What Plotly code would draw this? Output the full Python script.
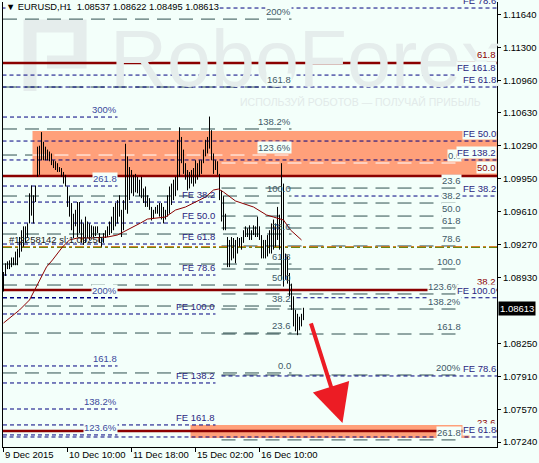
import plotly.graph_objects as go

BG = "#F3FFFA"
FONT = "Liberation Sans, Arial, sans-serif"

# ---------------- data ----------------
time_ticks = [0, 32, 64, 96, 128]
time_labels = ["9 Dec 2015", "10 Dec 10:00", "11 Dec 18:00", "15 Dec 02:00", "16 Dec 10:00"]

price_ticks = [1.11640, 1.11300, 1.10960, 1.10630, 1.10290, 1.09950, 1.09610,
               1.09270, 1.08930, 1.08250, 1.07910, 1.07570, 1.07240]
price_tick_labels = ["%.5f" % v for v in price_ticks]

bar_high = [1.0899, 1.0908, 1.0910, 1.0911, 1.0914, 1.0914, 1.0920, 1.0923, 1.0935, 1.0942,
            1.0946, 1.0946, 1.0949, 1.0980, 1.0988, 1.0978, 1.0988, 1.1028, 1.1029, 1.1043,
            1.1033, 1.1028, 1.1025, 1.1023, 1.1021, 1.1014, 1.1013, 1.1011, 1.1007, 1.1006,
            1.1002, 1.0999, 1.0987, 1.0977, 1.0970, 1.0959, 1.0963, 1.0971, 1.0971, 1.0953,
            1.0949, 1.0956, 1.0951, 1.0949, 1.0947, 1.0946, 1.0946, 1.0946, 1.0939, 1.0935,
            1.0939, 1.0942, 1.0946, 1.0951, 1.0956, 1.0966, 1.0970, 1.0973, 1.0978, 1.0963,
            1.0973, 1.1031, 1.1018, 1.1007, 1.1004, 1.0999, 1.1000, 1.0997, 1.0994, 1.0997,
            1.0985, 1.0987, 1.0978, 1.0975, 1.0966, 1.0963, 1.0966, 1.0968, 1.0970, 1.0970,
            1.0966, 1.0963, 1.0978, 1.0987, 1.0990, 1.0994, 1.0997, 1.1035, 1.1048, 1.1038,
            1.1025, 1.1011, 1.1004, 1.1002, 1.1004, 1.1006, 1.1014, 1.1011, 1.1014, 1.1014,
            1.1025, 1.1035, 1.1038, 1.1059, 1.1045, 1.1021, 1.1014, 1.1013, 1.1000, 1.0983,
            1.0977, 1.0959, 1.0935, 1.0932, 1.0935, 1.0934, 1.0932, 1.0935, 1.0934, 1.0935,
            1.0942, 1.0946, 1.0944, 1.0947, 1.0942, 1.0947, 1.0946, 1.0956, 1.0946, 1.0937,
            1.0932, 1.0932, 1.0937, 1.0942, 1.0949, 1.0953, 1.0949, 1.0966, 1.0958, 1.1011,
            1.0990, 1.0918, 1.0916, 1.0898, 1.0887, 1.0874, 1.0860, 1.0856, 1.0853, 1.0856,
            1.08622]
bar_low = [1.0879, 1.0895, 1.0902, 1.0902, 1.0904, 1.0906, 1.0906, 1.0906, 1.0914, 1.0920,
           1.0925, 1.0929, 1.0934, 1.0949, 1.0957, 1.0949, 1.0971, 1.0997, 1.0999, 1.1014,
           1.1014, 1.1014, 1.1014, 1.1013, 1.1009, 1.1006, 1.1004, 1.1002, 1.1002, 1.0997,
           1.0990, 1.0987, 1.0966, 1.0956, 1.0942, 1.0934, 1.0946, 1.0935, 1.0939, 1.0929,
           1.0927, 1.0929, 1.0934, 1.0932, 1.0935, 1.0935, 1.0936, 1.0939, 1.0929, 1.0925,
           1.0929, 1.0934, 1.0935, 1.0937, 1.0939, 1.0942, 1.0946, 1.0949, 1.0956, 1.0935,
           1.0942, 1.0963, 1.0959, 1.0973, 1.0980, 1.0977, 1.0981, 1.0980, 1.0977, 1.0975,
           1.0970, 1.0966, 1.0966, 1.0963, 1.0952, 1.0954, 1.0959, 1.0959, 1.0956, 1.0953,
           1.0949, 1.0953, 1.0956, 1.0959, 1.0968, 1.0973, 1.0977, 1.0983, 1.0997, 1.1011,
           1.1000, 1.0994, 1.0983, 1.0985, 1.0990, 1.0987, 1.0990, 1.0994, 1.0997, 1.1000,
           1.1011, 1.1018, 1.1021, 1.1026, 1.1014, 1.1000, 1.1004, 1.0999, 1.0973, 1.0951,
           1.0942, 1.0942, 1.0904, 1.0904, 1.0911, 1.0913, 1.0908, 1.0918, 1.0925, 1.0922,
           1.0929, 1.0935, 1.0935, 1.0932, 1.0932, 1.0937, 1.0935, 1.0935, 1.0932, 1.0913,
           1.0913, 1.0913, 1.0915, 1.0918, 1.0918, 1.0922, 1.0925, 1.0932, 1.0922, 1.0891,
           1.0884, 1.0891, 1.0887, 1.0874, 1.0860, 1.0843, 1.0838, 1.0834, 1.0839, 1.0843,
           1.08495]

last_ohlc = [1.08537, 1.08622, 1.08495, 1.08613]

ma_bar = [0, 8, 13, 16.5, 21.5, 24.5, 29.5, 33, 37, 43.5, 52, 57, 62, 68.5, 72, 77, 81,
          86, 91, 96, 101, 105, 107.5, 110, 116, 125, 131.5, 135, 140, 143.5, 149]
ma_val = [1.08465, 1.08599, 1.08702, 1.08836, 1.09042, 1.09114, 1.09248, 1.09320, 1.09340,
          1.09340, 1.09350, 1.09371, 1.09422, 1.09494, 1.09535, 1.09546, 1.09556, 1.09628,
          1.09659, 1.09710, 1.09762, 1.09834, 1.09844, 1.09813, 1.09721, 1.09659, 1.09577,
          1.09556, 1.09525, 1.09422, 1.09320]

# dark red fibonacci (solid)
red_levels = [1.11141, 1.09978, 1.08805, 1.07354]
red_labels = ["61.8", "50.0", "38.2", "23.6"]

# left expansion (navy dotted)
fa_levels = [1.10585, 1.09875, 1.08725, 1.08023, 1.07580, 1.07313]
fa_labels = ["300%", "261.8", "200%", "161.8", "138.2%", "123.6%"]
fa_end_bar = 57

# left FE set
fb_levels = [1.09710, 1.09494, 1.09278, 1.08959, 1.08558, 1.07848, 1.07416]
fb_labels = ["FE 38.2", "FE 50.0", "FE 61.8", "FE 78.6", "FE 100.0", "FE 138.2", "FE 161.8"]
fb_end_bar = 106

# middle retracement (grey dashes)
fc_levels = [1.11593, 1.10894, 1.10462, 1.10194, 1.09772, 1.09381, 1.09072, 1.08856,
             1.08640, 1.08362, 1.07951]
fc_labels = ["200%", "161.8", "138.2%", "123.6%", "100.0", "78.6", "61.8", "50.0",
             "38.2", "23.6", "0.0"]
fc_end_bar = 144

# right retracement (grey dashes)
fd_levels = [1.10112, 1.09854, 1.09700, 1.09566, 1.09443, 1.09258, 1.09021, 1.08764,
             1.08609, 1.08352, 1.07930, 1.07262]
fd_labels = ["0.0", "23.6", "38.2", "50.0", "61.8", "78.6", "100.0", "123.6%", "138.2%",
             "161.8", "200%", "261.8"]
fd_start_bar, fd_end_bar = 109, 229

# right FE set (navy dotted, labels at the right edge)
fe_levels = [1.11707, 1.11017, 1.10894, 1.10338, 1.10143, 1.09772, 1.08725, 1.07920, 1.07292]
fe_labels = ["FE 78.6", "FE 161.8", "FE 61.8", "FE 50.0", "FE 138.2", "FE 38.2", "FE 100.0",
             "FE 78.6", "FE 61.8"]
fe_start_bar = [-0.5, -0.5, -0.5, -0.5, -0.5, 145.5, 146.5, 109, -0.5]
fe_end_bar = [246.75, 226.5, 246.75, 246.75, 246.75, 246.75, 246.75, 246.75, 246.75]

# target zones
zone_bar0 = [14.5, 93.5]
zone_bar1 = [246.75, 233]
zone_lo = [1.09978, 1.07282]
zone_hi = [1.10441, 1.07416]

sl_price = 1.09247
sl_text = "#12258142 sl:1.09250"

arrow_from = (153.5, 1.08476)
arrow_to = (169.5, 1.07436)

X0, X1 = -0.25, 246.75
Y0, Y1 = 1.07189, 1.11769

NAVY = "#000080"
GREY = "#2F4F4F"
DRED = "#8B0000"
SALMON = "#FFA07A"
LBL = 9.5

fig = go.Figure()
shapes = []
annos = []

# watermark
annos.append(dict(x=0.212, y=0.872, xref="paper", yref="paper", text="RoboForex",
                  showarrow=False, xanchor="left", yanchor="middle",
                  font=dict(family=FONT, size=79, color="#E5EDEC")))
annos.append(dict(x=0.475, y=0.775, xref="paper", yref="paper",
                  text="ИСПОЛЬЗУЙ РОБОТОВ — ПОЛУЧАЙ ПРИБЫЛЬ",
                  showarrow=False, xanchor="left", yanchor="middle",
                  font=dict(family=FONT, size=10.5, color="#E2EAE9")))
shapes.append(dict(type="path", xref="paper", yref="paper",
                   path="M 0.0547 0.80 L 0.0547 0.946 L 0.156 0.946 L 0.156 0.865 L 0.089 0.865",
                   line=dict(color="#E5EDEC", width=13), layer="below"))

# zones
for a, b, lo, hi in zip(zone_bar0, zone_bar1, zone_lo, zone_hi):
    shapes.append(dict(type="rect", xref="x", yref="y", x0=a, x1=b, y0=lo, y1=hi,
                       fillcolor=SALMON, line=dict(width=0), layer="below"))


def hline(x0, x1, y, color, dash, width=1):
    shapes.append(dict(type="line", xref="x", yref="y", x0=x0, x1=x1, y0=y, y1=y,
                       line=dict(color=color, width=width, dash=dash), layer="below"))


def grey_line(x0, x1, y):
    # inside the upper zone the grey dashes appear white
    a, b, lo, hi = zone_bar0[0], zone_bar1[0], zone_lo[0], zone_hi[0]
    if lo < y < hi:
        if x0 < a:
            hline(x0, a, y, GREY, "14px,8px")
        hline(max(x0, a), min(x1, b), y, "#FFFFFF", "14px,8px")
    else:
        hline(x0, x1, y, GREY, "14px,8px")


def label(x, y, text, color, bg=True, xref="x", yshift=1, anchor="right"):
    annos.append(dict(x=x, y=y, xref=xref, yref="y", text=text, showarrow=False,
                      xanchor=anchor, yanchor="bottom", yshift=yshift,
                      font=dict(family=FONT, size=LBL, color=color),
                      bgcolor=BG if bg else None, borderpad=0))


for lv in fc_levels:
    grey_line(X0, fc_end_bar, lv)
for lv in fd_levels:
    grey_line(fd_start_bar, fd_end_bar, lv)
for lv in fa_levels:
    hline(X0, fa_end_bar, lv, NAVY, "4px,3px", 1.5 if lv == fa_levels[2] else 1)
for lv in fb_levels:
    hline(X0, fb_end_bar, lv, NAVY, "4px,3px")
for lv, a, b in zip(fe_levels, fe_start_bar, fe_end_bar):
    hline(a, b, lv, NAVY, "4px,3px")
for lv in red_levels:
    hline(X0, X1, lv, DRED, "solid", 2.5)
# stop-loss line
hline(X0, X1, sl_price - 0.00003, "#1E9E1E", "9px,3px,3px,3px", 1.5)
hline(X0, X1, sl_price + 0.00002, "#FF5A00", "9px,3px,3px,3px", 1)

# bars (high-low vertical strokes)
bx, by = [], []
for i, (h, l) in enumerate(zip(bar_high, bar_low)):
    bx += [i, i, None]
    by += [l, h, None]
fig.add_trace(go.Scatter(x=bx, y=by, mode="lines", line=dict(color="black", width=1),
                         hoverinfo="skip", connectgaps=False))
# moving average
fig.add_trace(go.Scatter(x=ma_bar, y=ma_val, mode="lines",
                         line=dict(color=DRED, width=1), hoverinfo="skip"))

# labels
for lv, t in zip(red_levels, red_labels):
    label(1, lv, t, DRED, bg=True, xref="paper", yshift=2)
for lv, t in zip(fa_levels, fa_labels):
    label(fa_end_bar, lv, t, "#3B4A9C")
for lv, t in zip(fb_levels, fb_labels):
    label(fb_end_bar, lv, t, "#2A2580", bg=False)
for lv, t in zip(fc_levels, fc_labels):
    label(fc_end_bar, lv, t, "#3F5A68", bg=t in ("200%", "161.8", "138.2%", "123.6%"))
for lv, t in zip(fd_levels, fd_labels):
    label(fd_end_bar, lv, t, "#3F5A68")
for lv, t in zip(fe_levels, fe_labels):
    label(1, lv, t, "#2A2580", xref="paper")

label(2, sl_price, sl_text, "#202020", bg=False, anchor="left")

# arrow
annos.append(dict(x=arrow_to[0], y=arrow_to[1], ax=arrow_from[0], ay=arrow_from[1],
                  xref="x", yref="y", axref="x", ayref="y", text="", showarrow=True,
                  arrowhead=2, arrowsize=1.9, arrowwidth=4, arrowcolor="#EC1C24"))

# time labels
for t, s in zip(time_ticks, time_labels):
    annos.append(dict(x=t, y=0, xref="x", yref="paper", text=s, showarrow=False,
                      xanchor="left", yanchor="top", yshift=0, xshift=-1,
                      font=dict(family=FONT, size=9.5, color="black")))

# last price box
annos.append(dict(x=1, y=last_ohlc[3], xref="paper", yref="y", text="%.5f" % last_ohlc[3],
                  showarrow=False, xanchor="left", yanchor="middle", xshift=1,
                  bgcolor="black", borderpad=1,
                  font=dict(family=FONT, size=9.5, color="white")))

# title
annos.append(dict(x=0, y=1, xref="paper", yref="paper",
                  text="\u25BC EURUSD,H1\u00a0\u00a0" + " ".join("%.5f" % v for v in last_ohlc),
                  showarrow=False, xanchor="left", yanchor="top", xshift=2, yshift=1,
                  bgcolor=BG, borderpad=0,
                  font=dict(family=FONT, size=9.3, color="black")))

fig.update_layout(
    width=539, height=463,
    margin=dict(l=3, r=42, t=2, b=16),
    paper_bgcolor=BG, plot_bgcolor=BG,
    showlegend=False,
    shapes=shapes, annotations=annos,
    font=dict(family=FONT, size=10, color="black"),
    xaxis=dict(range=[X0, X1], showgrid=False, zeroline=False, showline=True,
               linecolor="black", linewidth=1, tickvals=time_ticks, ticks="outside",
               ticklen=4, tickcolor="black", showticklabels=False, fixedrange=True),
    yaxis=dict(range=[Y0, Y1], side="right", showgrid=False, zeroline=False,
               showline=True, mirror=True, linecolor="black", linewidth=1,
               tickvals=price_ticks, ticktext=price_tick_labels, ticks="outside",
               ticklen=3, tickcolor="black", tickfont=dict(family=FONT, size=9.5, color="black"),
               fixedrange=True),
)

fig.write_html("out.html", config={"displayModeBar": False},
               post_script="document.body.style.margin='0px';")
